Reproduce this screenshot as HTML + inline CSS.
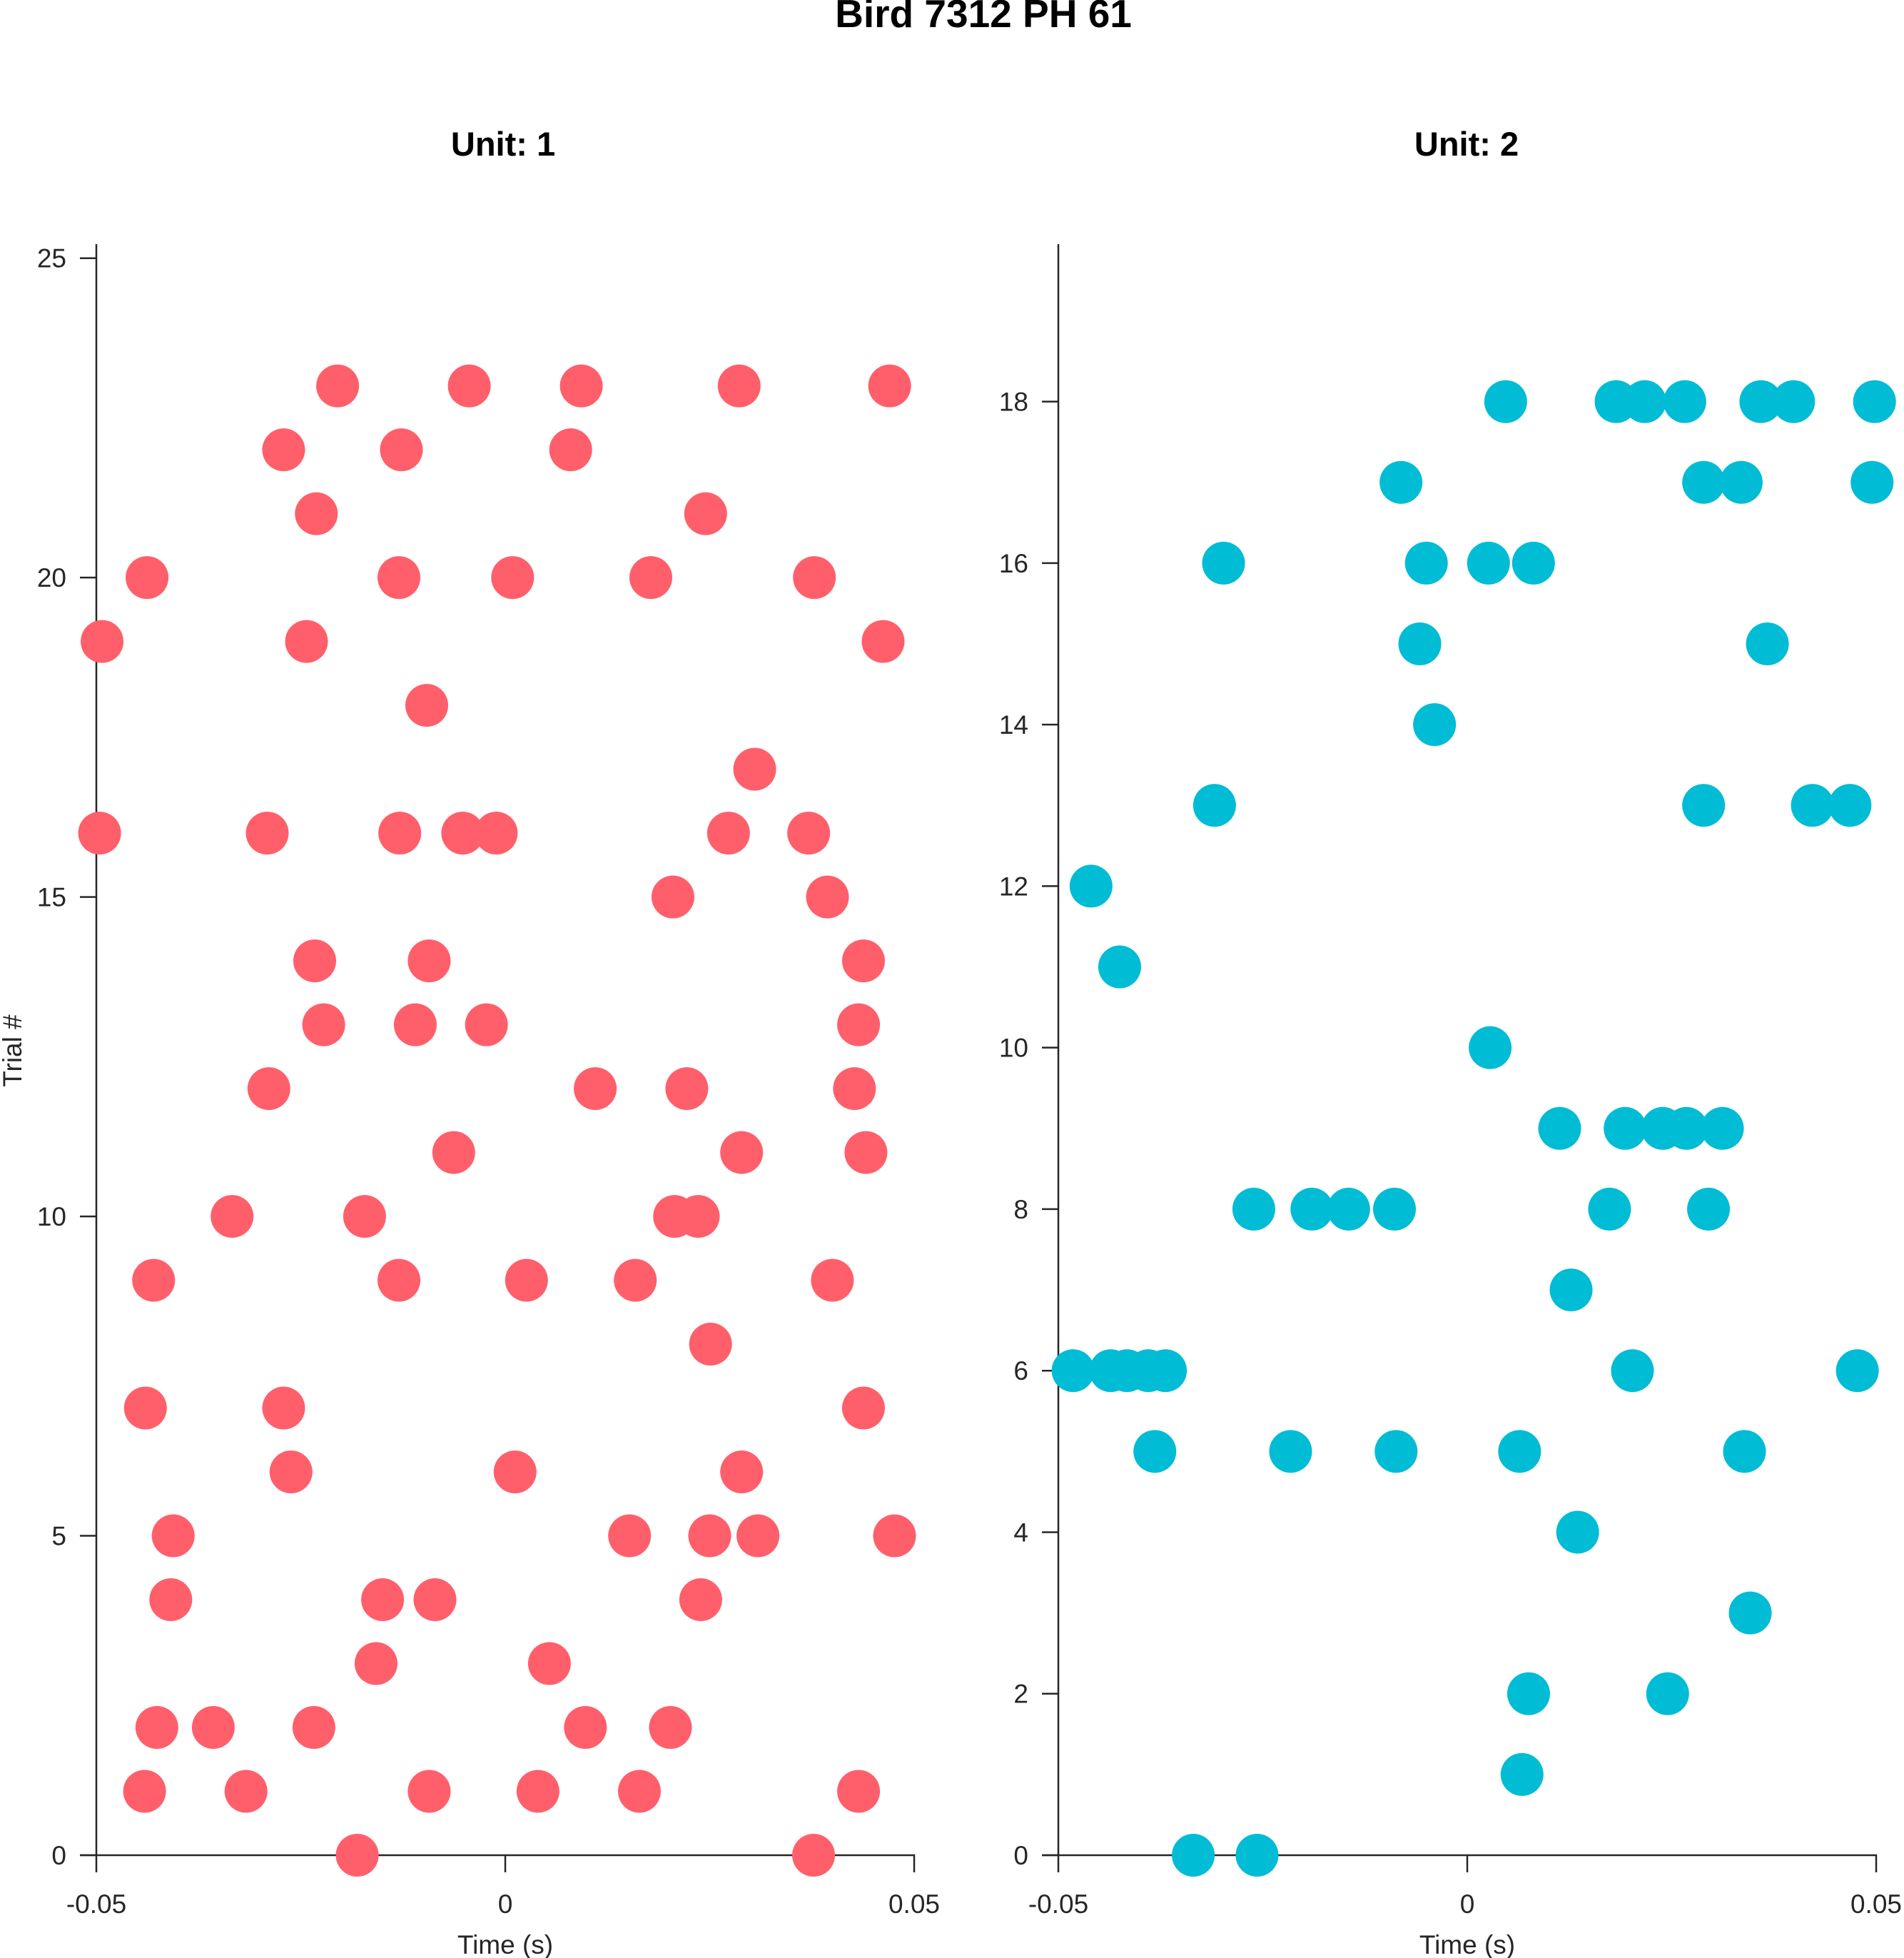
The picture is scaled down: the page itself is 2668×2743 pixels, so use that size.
<!DOCTYPE html>
<html><head><meta charset="utf-8"><style>
html,body{margin:0;padding:0;background:#fff}
svg{display:block}
text{font-family:"Liberation Sans",Arial,sans-serif;fill:#262626}
</style></head><body>
<svg id="chart" width="2668" height="2743" viewBox="0 0 2668 2743" xmlns="http://www.w3.org/2000/svg">
<text x="1378" y="38" text-anchor="middle" font-size="55" font-weight="bold" style="fill:#000">Bird 7312 PH 61</text>
<text x="705" y="218" text-anchor="middle" font-size="47" font-weight="bold" style="fill:#000">Unit: 1</text>
<text x="2055" y="218" text-anchor="middle" font-size="47" font-weight="bold" style="fill:#000">Unit: 2</text>
<text x="0" y="0" transform="translate(30,1472) rotate(-90)" text-anchor="middle" font-size="37">Trial #</text>
<g id="p1"></g>
<g id="p2"></g>
</svg>
<script>
// Unit 1: spike times (s) per trial
const trials1 = [0,1,2,3,4,5,6,7,8,9,10,11,12,13,14,15,16,17,18,19,20,21,22,23];
const times1 = [
 [-0.0181,0.0377],
 [-0.0441,-0.0317,-0.0093,0.0040,0.0164,0.0432],
 [-0.0426,-0.0357,-0.0234,0.0098,0.0202],
 [-0.0158,0.0054],
 [-0.0409,-0.0150,-0.0086,0.0239],
 [-0.0406,0.0152,0.0250,0.0309,0.0476],
 [-0.0262,0.0012,0.0289],
 [-0.0440,-0.0271,0.0438],
 [0.0251],
 [-0.0430,-0.0130,0.0026,0.0159,0.0400],
 [-0.0334,-0.0172,0.0207,0.0236],
 [-0.0063,0.0289,0.0441],
 [-0.0289,0.0110,0.0222,0.0427],
 [-0.0222,-0.0110,-0.0023,0.0432],
 [-0.0233,-0.0093,0.0438],
 [0.0205,0.0394],
 [-0.0496,-0.0291,-0.0129,-0.0052,-0.0011,0.0273,0.0371],
 [0.0305],
 [-0.0096],
 [-0.0493,-0.0243,0.0462],
 [-0.0438,-0.0130,0.0009,0.0178,0.0378],
 [-0.0231,0.0245],
 [-0.0271,-0.0127,0.0080],
 [-0.0205,-0.0044,0.0093,0.0286,0.0470]
];
// Unit 2
const trials2 = [0,1,2,3,4,5,6,7,8,9,10,11,12,13,14,15,16,17,18];
const times2 = [
 [-0.0335,-0.0257],
 [0.0067],
 [0.0075,0.0245],
 [0.0346],
 [0.0135],
 [-0.0382,-0.0216,-0.0087,0.0064,0.0339],
 [-0.0482,-0.0436,-0.0416,-0.0390,-0.0369,0.0202,0.0477],
 [0.0127],
 [-0.0261,-0.0190,-0.0145,-0.0089,0.0174,0.0295],
 [0.0113,0.0193,0.0239,0.0268,0.0312],
 [0.0028],
 [-0.0425],
 [-0.0460],
 [-0.0309,0.0289,0.0422,0.0468],
 [-0.0040],
 [-0.0058,0.0367],
 [-0.0298,-0.0050,0.0026,0.0081],
 [-0.0081,0.0289,0.0335,0.0495],
 [0.0047,0.0182,0.0217,0.0266,0.0359,0.0399,0.0498]
];
const yTicks1 = [0,5,10,15,20,25];
const yTicks2 = [0,2,4,6,8,10,12,14,16,18];
const xTicks = [-0.05,0,0.05];
const xTickLabels = ["-0.05","0","0.05"];

const NS="http://www.w3.org/2000/svg";
function mk(tag,attrs,parent){const e=document.createElementNS(NS,tag);for(const k in attrs)e.setAttribute(k,attrs[k]);parent.appendChild(e);return e;}

function panel(g,L,R,ymax,yticks,trials,times,color,prefix){
  const T=342,B=2599;
  const sx=v=>L+(v+0.05)/0.1*(R-L);
  const sy=v=>B-v/ymax*(B-T);
  const ax=mk('path',{d:`M${L},${T}V${B+24}M${L-23},${B}H${R}V${B+24}M${sx(0)},${B}V${B+24}`,stroke:'#262626','stroke-width':2.5,fill:'none'},g);
  
  
  yticks.forEach(t=>{
    const y=sy(t);
    const tk=mk('line',{x1:L-23,x2:L,y1:y,y2:y,stroke:'#262626','stroke-width':2.5},g);
    
    
    const tl=mk('text',{x:L-42,y:y+13,'text-anchor':'end','font-size':37},g);
    tl.textContent=t;
    
    
  });
  xTicks.forEach((t,i)=>{
    const tl=mk('text',{x:sx(t),y:2680,'text-anchor':'middle','font-size':37},g);
    tl.textContent=xTickLabels[i];
    
    
  });
  const xt=mk('text',{x:sx(0),y:2737,'text-anchor':'middle','font-size':37},g);
  xt.textContent='Time (s)';
  
  
  trials.forEach((tr,i)=>{
    times[i].forEach(t=>{
      const c=mk('circle',{cx:sx(t),cy:sy(tr),r:30,fill:color},g);
      
      
    });
  });
}
panel(document.getElementById('p1'),135,1281,25.22,yTicks1,trials1,times1,'#FF5F6B','unit1');
panel(document.getElementById('p2'),1483,2629,19.95,yTicks2,trials2,times2,'#00BCD4','unit2');
</script>
</body></html>
